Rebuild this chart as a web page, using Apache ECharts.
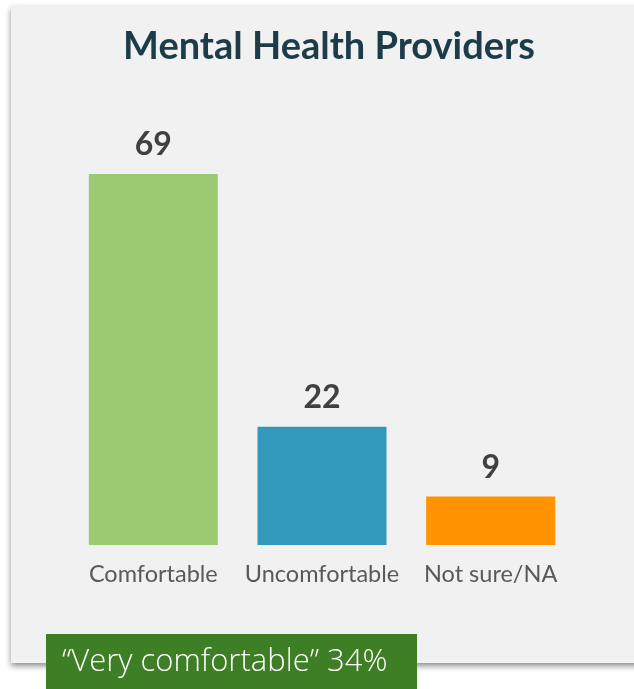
<!DOCTYPE html>
<html>
<head>
<meta charset="utf-8">
<script src="https://cdn.jsdelivr.net/npm/echarts@6/dist/echarts.min.js"></script>
<style>
  html, body { margin: 0; padding: 0; background: #ffffff; }
  #chart { width: 634px; height: 689px; }
</style>
</head>
<body>
<div id="chart"></div>
<script>
// Survey answers for mental health providers (percent of respondents)
const categories = ['Comfortable', 'Uncomfortable', 'Not sure/NA'];
const values = [69, 22, 9];
const barColors = ['#9cca73', '#3399bb', '#ff9300'];
const titleText = 'Mental Health Providers';
const calloutText = '\u201CVery comfortable\u201D 34%';

const chart = echarts.init(document.getElementById('chart'));

chart.setOption({
  backgroundColor: '#ffffff',
  animation: false,
  graphic: [
    {
      // card panel with soft drop shadow
      type: 'rect',
      z: -10,
      shape: { x: 11, y: 6, width: 640, height: 657 },
      style: {
        fill: '#f1f1f1',
        shadowBlur: 6,
        shadowOffsetX: 0,
        shadowOffsetY: 3,
        shadowColor: 'rgba(0,0,0,0.45)'
      }
    },
    {
      // highlight callout
      type: 'group',
      z: 10,
      children: [
        {
          type: 'rect',
          shape: { x: 46, y: 634, width: 371, height: 60 },
          style: { fill: '#3e7f25' }
        },
        {
          type: 'text',
          x: 62,
          y: 662,
          style: {
            text: calloutText,
            fill: '#ffffff',
            font: '300 31px "Open Sans", Lato, sans-serif',
            verticalAlign: 'middle',
            align: 'left'
          }
        }
      ]
    }
  ],
  title: {
    text: titleText,
    left: 324,
    top: 23,
    textAlign: 'center',
    textStyle: {
      color: '#1b3c48',
      fontFamily: 'Lato, sans-serif',
      fontWeight: 'bold',
      fontSize: 38
    }
  },
  grid: {
    left: 69,
    right: 59,
    top: 174,
    bottom: 144,
    containLabel: false
  },
  xAxis: {
    type: 'category',
    data: categories,
    axisLine: { show: false },
    axisTick: { show: false },
    axisLabel: {
      interval: 0,
      color: '#595959',
      fontFamily: 'Lato, sans-serif',
      fontSize: 23.5,
      margin: 17
    }
  },
  yAxis: {
    type: 'value',
    min: 0,
    max: 69,
    show: false,
    splitLine: { show: false }
  },
  series: [
    {
      type: 'bar',
      barWidth: 129,
      data: values.map((v, i) => ({ value: v, itemStyle: { color: barColors[i] } })),
      label: {
        show: true,
        position: 'top',
        distance: 13,
        color: '#404040',
        fontFamily: 'Lato, sans-serif',
        fontWeight: 'bold',
        fontSize: 32
      }
    }
  ]
});
</script>
</body>
</html>
